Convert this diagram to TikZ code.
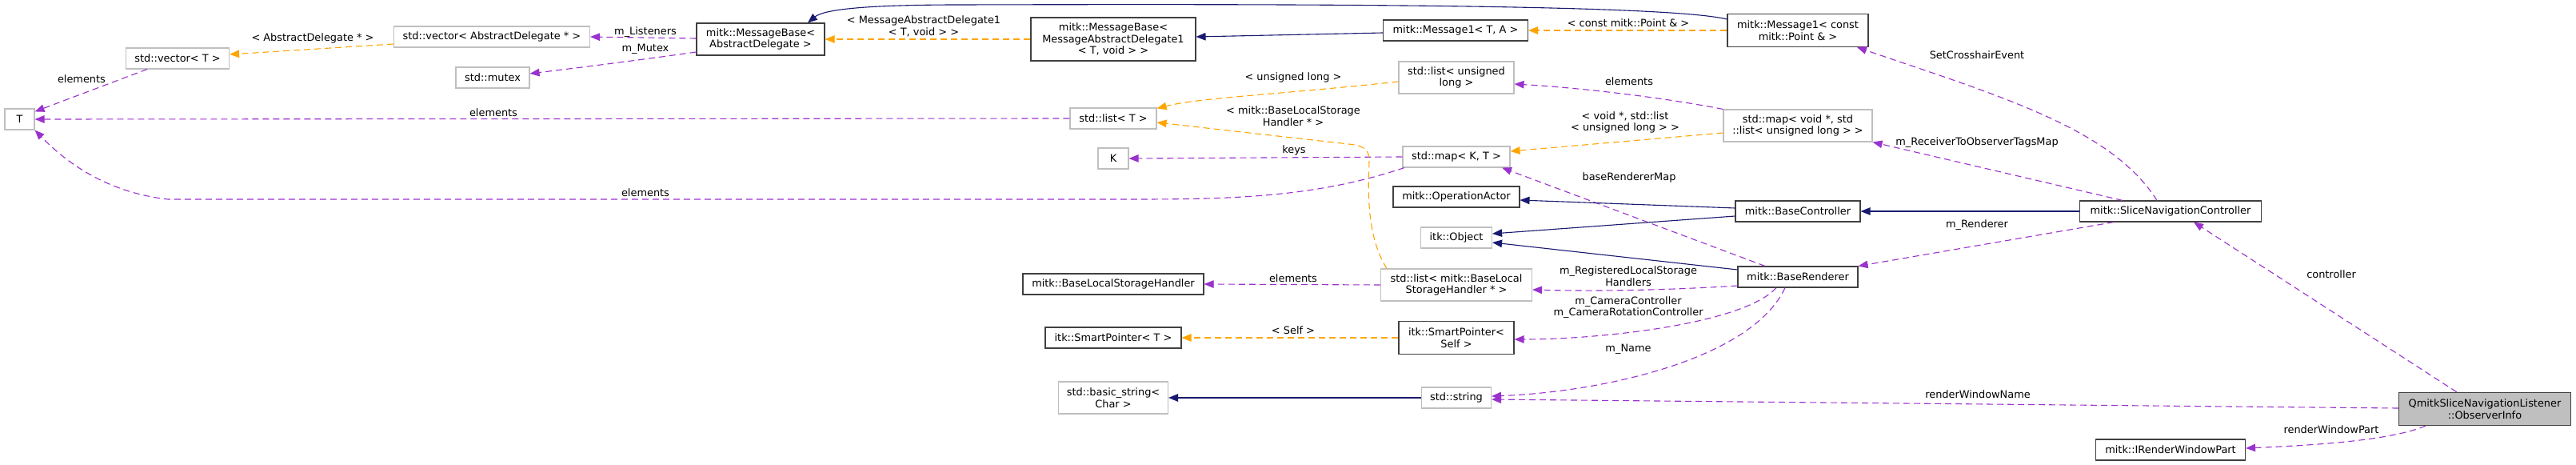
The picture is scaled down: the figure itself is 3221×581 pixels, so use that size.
\documentclass[tikz,border=0pt]{standalone}
\usepackage{fontspec}
\setmainfont{DejaVu Sans}
\usetikzlibrary{arrows.meta}
\definecolor{purp}{HTML}{9A32CD}
\definecolor{orng}{HTML}{FFA500}
\definecolor{mblue}{HTML}{191970}
\definecolor{gbord}{HTML}{BFBFBF}
\definecolor{dbord}{HTML}{404040}
\newcommand\dgfont{\fontsize{12.9}{14.7}\selectfont}
\begin{document}
\begin{tikzpicture}[x=1pt,y=-1pt,
  bx/.style={draw=dbord, line width=1.1pt, inner sep=0pt, align=center, font=\dgfont, fill=white},
  gbx/.style={bx, draw=gbord},
  lbl/.style={font=\dgfont, inner sep=0pt, align=center},
  use/.style={draw=purp, line width=1.1pt, dash pattern=on 8pt off 5pt, -{Triangle[length=12pt,width=9.5pt]}},
  tmpl/.style={draw=orng, line width=1.1pt, dash pattern=on 8pt off 5pt, -{Triangle[length=12pt,width=9.5pt]}},
  inh/.style={draw=mblue, line width=1.1pt, -{Triangle[length=12pt,width=9.5pt]}}]
\fill[white] (0,0) rectangle (3221,581);
\useasboundingbox (0,0) rectangle (3221,581);

% nodes
\node[gbx, minimum width=37, minimum height=26] (T) at (24.5,149) {T};
\node[gbx, minimum width=129, minimum height=26] (vecT) at (222,73) {std::vector< T >};
\node[gbx, minimum width=245, minimum height=26] (vecAD) at (615,46) {std::vector< AbstractDelegate * >};
\node[gbx, minimum width=92, minimum height=26] (mutex) at (616,97) {std::mutex};
\node[bx, minimum width=160, minimum height=40] (mbAD) at (951,49) {mitk::MessageBase<\\AbstractDelegate >};
\node[bx, minimum width=206, minimum height=54] (mbMAD) at (1392,49) {mitk::MessageBase<\\MessageAbstractDelegate1\\< T, void > >};
\node[bx, minimum width=181, minimum height=26] (msgTA) at (1820,38) {mitk::Message1< T, A >};
\node[bx, minimum width=176, minimum height=41] (msgPt) at (2248,38) {mitk::Message1< const\\mitk::Point \& >};
\node[gbx, minimum width=144, minimum height=40] (listUL) at (1821,97) {std::list< unsigned\\long >};
\node[gbx, minimum width=108, minimum height=26] (listT) at (1392,148) {std::list< T >};
\node[gbx, minimum width=38, minimum height=26] (K) at (1392,198) {K};
\node[gbx, minimum width=134, minimum height=26] (mapKT) at (1821,196) {std::map< K, T >};
\node[gbx, minimum width=186, minimum height=40] (mapVoid) at (2248,157) {std::map< void *, std\\::list< unsigned long > >};
\node[bx, minimum width=158, minimum height=26] (opActor) at (1821,246) {mitk::OperationActor};
\node[gbx, minimum width=89, minimum height=26] (itkObj) at (1821,297) {itk::Object};
\node[bx, minimum width=156, minimum height=26] (baseCtrl) at (2248,264) {mitk::BaseController};
\node[bx, minimum width=227, minimum height=26] (snc) at (2714,264) {mitk::SliceNavigationController};
\node[bx, minimum width=150, minimum height=26] (baseRend) at (2248,346) {mitk::BaseRenderer};
\node[bx, minimum width=226, minimum height=26] (blsh) at (1392,355) {mitk::BaseLocalStorageHandler};
\node[gbx, minimum width=189, minimum height=40] (listBLSH) at (1821,356) {std::list< mitk::BaseLocal\\StorageHandler * >};
\node[bx, minimum width=170, minimum height=26] (spT) at (1392,422) {itk::SmartPointer< T >};
\node[bx, minimum width=144, minimum height=41] (spSelf) at (1821,422) {itk::SmartPointer<\\Self >};
\node[gbx, minimum width=137, minimum height=40] (basicStr) at (1392,497) {std::basic\_string<\\Char >};
\node[gbx, minimum width=87, minimum height=26] (stdStr) at (1821,497) {std::string};
\node[bx, fill=gbord, minimum width=215, minimum height=41] (obsInfo) at (3107,511) {QmitkSliceNavigationListener\\::ObserverInfo};
\node[bx, minimum width=187, minimum height=26] (irwp) at (2714,562) {mitk::IRenderWindowPart};

% usage edges (purple)
\draw[use] ([xshift=-38pt]vecT.south) -- ([yshift=-4pt]T.north east);
\draw[use] (listT.west) -- (T.east);
\draw[use] ([xshift=-65pt]mapKT.south) .. controls (1650,245) and (1550,249) .. (1420,249) -- (210,249) .. controls (130,240) and (80,200) .. (T.south east);
\draw[use] ([yshift=1pt]mbAD.west) -- (vecAD.east);
\draw[use] ([yshift=-16pt]mbAD.west) .. controls (800,75) and (720,85) .. ([yshift=5pt]mutex.east);
\draw[use] (mapKT.west) -- (K.east);
\draw[use] (mapVoid.north west) .. controls (2080,122) and (1980,110) .. ([yshift=-8pt]listUL.east);
\draw[use] ([xshift=-17pt]snc.north) .. controls (2640,160) and (2500,120) .. ([xshift=74pt]msgPt.south);
\draw[use] ([xshift=-60pt]snc.north) -- (mapVoid.south east);
\draw[use] ([xshift=-71pt]snc.south) -- (baseRend.north east);
\draw[use] ([xshift=-41pt]baseRend.north) -- ([xshift=57pt]mapKT.south);
\draw[use] ([yshift=-11pt]baseRend.west) .. controls (2080,363) and (1990,364) .. ([yshift=-6pt]listBLSH.east);
\draw[use] (listBLSH.west) -- (blsh.east);
\draw[use] ([xshift=-27pt]baseRend.south) .. controls (2180,405) and (2000,424) .. ([yshift=-2pt]spSelf.east);
\draw[use] ([xshift=-16pt]baseRend.south) .. controls (2190,450) and (2000,490) .. ([yshift=2pt]stdStr.east);
\draw[use] ([xshift=-35pt]obsInfo.north) -- ([xshift=29pt]snc.south);
\draw[use] ([yshift=1pt]obsInfo.west) -- ([yshift=-2pt]stdStr.east);
\draw[use] ([xshift=-74pt]obsInfo.south) .. controls (2990,550) and (2900,556) .. ([yshift=2pt]irwp.east);

% template edges (orange)
\draw[tmpl] ([yshift=-9pt]vecAD.west) -- ([yshift=5pt]vecT.east);
\draw[tmpl] (mbMAD.west) -- (mbAD.east);
\draw[tmpl] (msgPt.west) -- (msgTA.east);
\draw[tmpl] ([yshift=-5pt]listUL.west) .. controls (1600,118) and (1500,122) .. ([yshift=-1pt]listT.north east);
\draw[tmpl] ([xshift=-87pt]listBLSH.north) .. controls (1705,290) and (1712,220) .. (1712,200) .. controls (1712,188) and (1706,184) .. (1695,181) -- ([yshift=-5pt]listT.east);
\draw[tmpl] ([yshift=-9pt]mapVoid.west) -- ([yshift=7pt]mapKT.east);
\draw[tmpl] (spSelf.west) -- (spT.east);

% inheritance edges (blue)
\draw[inh] ([yshift=14pt]msgPt.west) .. controls (2080,5) and (1600,5) .. (1200,6) .. controls (1080,6) and (1030,12) .. ([xshift=59pt]mbAD.north);
\draw[inh] ([yshift=-3pt]msgTA.west) -- ([yshift=3pt]mbMAD.east);
\draw[inh] ([yshift=4pt]baseCtrl.west) -- ([yshift=-4pt]opActor.east);
\draw[inh] ([yshift=-6pt]baseCtrl.west) -- ([yshift=5pt]itkObj.east);
\draw[inh] ([yshift=9pt]baseRend.west) -- ([yshift=-6pt]itkObj.east);
\draw[inh] (snc.west) -- (baseCtrl.east);
\draw[inh] (stdStr.west) -- (basicStr.east);

% labels
\node[lbl] (l1) at (102,99) {elements};
\node[lbl] (l2) at (617,141) {elements};
\node[lbl] (l3) at (807,241) {elements};
\node[lbl] (l4) at (807,40) {m\_Listeners};
\node[lbl] (l5) at (807,61) {m\_Mutex};
\node[lbl] (l6) at (1618,188) {keys};
\node[lbl] (l7) at (2037,102) {elements};
\node[lbl] (l8) at (2472,69) {SetCrosshairEvent};
\node[lbl] (l9) at (2472,178) {m\_ReceiverToObserverTagsMap};
\node[lbl] (l10) at (2472,281) {m\_Renderer};
\node[lbl] (l11) at (2037,222) {baseRendererMap};
\node[lbl] (l12) at (2036,345) {m\_RegisteredLocalStorage\\Handlers};
\node[lbl] (l13) at (1617,348) {elements};
\node[lbl] (l14) at (2036,384) {m\_CameraController\\m\_CameraRotationController};
\node[lbl] (l15) at (2036,436) {m\_Name};
\node[lbl] (l16) at (2915,343) {controller};
\node[lbl] (l17) at (2473,493) {renderWindowName};
\node[lbl] (l18) at (2915,537) {renderWindowPart};
\node[lbl] (l19) at (391,48) {< AbstractDelegate * >};
\node[lbl] (l20) at (1155,33) {< MessageAbstractDelegate1\\< T, void > >};
\node[lbl] (l21) at (2036,29) {< const mitk::Point \& >};
\node[lbl] (l22) at (1617,97) {< unsigned long >};
\node[lbl] (l23) at (1617,145) {< mitk::BaseLocalStorage\\Handler * >};
\node[lbl] (l24) at (2032,153) {< void *, std::list\\< unsigned long > >};
\node[lbl] (l25) at (1617,413) {< Self >};
\end{tikzpicture}
\end{document}
